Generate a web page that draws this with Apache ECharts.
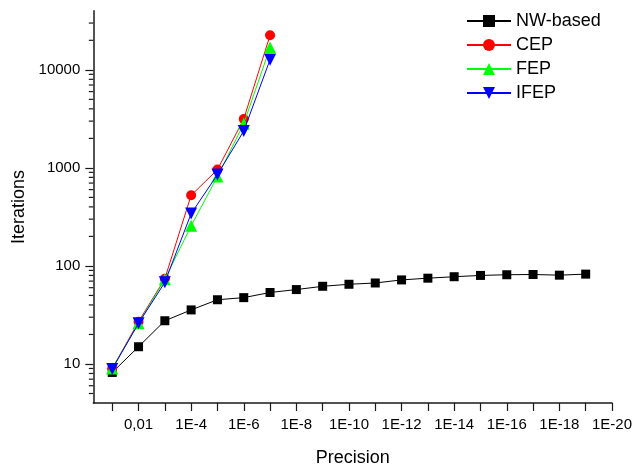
<!DOCTYPE html>
<html>
<head>
<meta charset="utf-8">
<script src="https://cdn.jsdelivr.net/npm/echarts@6/dist/echarts.min.js"></script>
<style>
html,body{margin:0;padding:0;background:#fff;}
#chart{width:635px;height:472px;}
</style>
</head>
<body>
<div id="chart"></div>
<script>
// x position = -log10(precision)
const nwExp = [1,2,3,4,5,6,7,8,9,10,11,12,13,14,15,16,17,18,19];
const nwBased = [8.2,15,27.6,35.6,45.2,47.5,53.6,57.4,62,65,67,72,75,77.6,80,81.3,81.8,80.5,82.5];
const epExp = [1,2,3,4,5,6,7];
const cep = [9,27,74,525,960,3150,22500];
const fep = [9,26,73,257,815,2820,16900];
const ifep = [8.9,26,68,342,855,2380,12700];

const xTickValues = [1,2,3,4,5,6,7,8,9,10,11,12,13,14,15,16,17,18,19,20];
const xLabelValues = [2,4,6,8,10,12,14,16,18,20];
const xLabelTexts = ['0,01','1E-4','1E-6','1E-8','1E-10','1E-12','1E-14','1E-16','1E-18','1E-20'];
const yMinorTicks = [5,6,7,8,9,20,30,40,50,60,70,80,90,200,300,400,500,600,700,800,900,
  2000,3000,4000,5000,6000,7000,8000,9000,20000,30000];

const X_MIN = 0.28, X_MAX = 20, Y_MIN = 4, Y_MAX = 40000;
const font = 'Liberation Sans, Arial, sans-serif';

function pairs(xs, ys){ return xs.map((x,i)=>[x, ys[i]]); }

const chart = echarts.init(document.getElementById('chart'), null, {renderer:'canvas'});
chart.setOption({
  animation:false,
  backgroundColor:'#fff',
  grid:{left:93.3, right:21.7, top:10.8, bottom:61.2, containLabel:false},
  legend:{
    orient:'vertical', left:466, top:12, padding:0,
    data:['NW-based','CEP','FEP','IFEP'],
    itemWidth:44, itemHeight:15, itemGap:6,
    textStyle:{fontFamily:font, fontSize:18, color:'#000', lineHeight:16, padding:[0,0,0,0]},
    selectedMode:false
  },
  xAxis:{
    type:'value', min:X_MIN, max:X_MAX,
    name:'Precision', nameLocation:'middle', nameGap:46,
    nameTextStyle:{fontFamily:font, fontSize:18, color:'#000'},
    axisLine:{show:true, onZero:false, lineStyle:{color:'#1a1a1a', width:1.5}},
    axisTick:{show:true, inside:false, length:8, customValues:xTickValues, lineStyle:{color:'#1a1a1a', width:1.2}},
    axisLabel:{
      customValues:xLabelValues, margin:14,
      fontFamily:font, fontSize:15, color:'#000',
      formatter:function(v){ const i = xLabelValues.indexOf(Math.round(v)); return i>=0 ? xLabelTexts[i] : ''; }
    },
    splitLine:{show:false}
  },
  yAxis:{
    type:'log', logBase:10, min:Y_MIN, max:Y_MAX,
    name:'Iterations', nameLocation:'middle', nameGap:56, nameRotate:90,
    nameTextStyle:{fontFamily:font, fontSize:18, color:'#000', padding:[0,0,0,0]},
    axisLine:{show:true, lineStyle:{color:'#1a1a1a', width:1.5}},
    axisTick:{show:true, inside:false, length:8, lineStyle:{color:'#1a1a1a', width:1.2}},
    axisLabel:{fontFamily:font, fontSize:15, color:'#000', margin:13, showMinLabel:false, showMaxLabel:false,
      formatter:function(v){ return String(Math.round(v)); }},
    splitLine:{show:false}
  },
  series:[
    {name:'NW-based', type:'line', data:pairs(nwExp, nwBased), symbol:'rect', symbolSize:9,
      itemStyle:{color:'#000'}, lineStyle:{color:'#000', width:1}, z:3},
    {name:'CEP', type:'line', data:pairs(epExp, cep), symbol:'circle', symbolSize:10,
      itemStyle:{color:'#ff0000'}, lineStyle:{color:'#ff0000', width:1}, z:4},
    {name:'FEP', type:'line', data:pairs(epExp, fep), symbol:'triangle', symbolSize:12,
      itemStyle:{color:'#00ff00'}, lineStyle:{color:'#00ff00', width:1}, z:5},
    {name:'IFEP', type:'line', data:pairs(epExp, ifep), symbol:'triangle', symbolRotate:180, symbolSize:12,
      itemStyle:{color:'#0000ff'}, lineStyle:{color:'#0000ff', width:1}, z:6},
    {name:'minorTicks', type:'custom', silent:true, clip:false, z:1,
      data:yMinorTicks.map(v=>[X_MIN, v]),
      renderItem:function(params, api){
        const p = api.coord([api.value(0), api.value(1)]);
        return {type:'line', shape:{x1:p[0]-4.5, y1:p[1], x2:p[0], y2:p[1]},
          style:{stroke:'#1a1a1a', lineWidth:1.2}};
      }}
  ]
});
</script>
</body>
</html>
